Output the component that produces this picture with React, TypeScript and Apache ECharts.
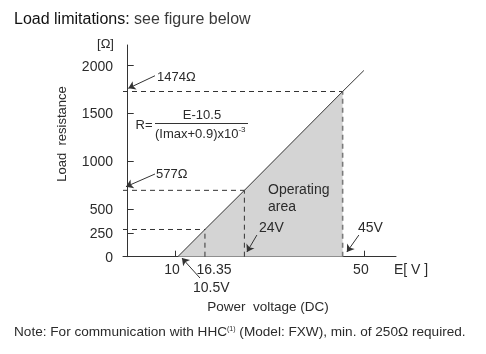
import React, { useEffect, useRef } from "react";
import * as echarts from "echarts";

// ---- data ----
const xTickValues = [10, 16.35, 50];
const yTickValues = [0, 250, 500, 1000, 1500, 2000];
const lineE = [10.6, 16.35, 24.7, 45.5, 50];
const lineR = [0, 285, 695, 1730, 1950];
const areaE = [10.6, 16.35, 24.7, 45.5];
const areaR = [0, 285, 695, 1730];
const guideE = [16.35, 24.7, 45.5];
const guideR = [285, 695, 1730];

const FONT = "'Liberation Sans', Arial, Helvetica, sans-serif";
const TXT = "#2b2b2b";

export default function App() {
  const ref = useRef<HTMLDivElement>(null);
  useEffect(() => {
    if (!ref.current) return;
    const chart = echarts.init(ref.current, null, { renderer: "svg" });
    const xMin = -1;
    const xMax = 56.8;

    const series: any[] = [];
    series.push({
      type: "line",
      data: areaE.map((e, i) => [e, areaR[i]]),
      symbol: "none",
      lineStyle: { width: 0 },
      areaStyle: { color: "#d4d4d4", opacity: 1 },
      z: 1,
      silent: true,
    });
    guideE.forEach((e, i) => {
      const last = i === guideE.length - 1;
      series.push({
        type: "line",
        data: [
          [xMin, guideR[i]],
          [e, guideR[i]],
        ],
        symbol: "none",
        lineStyle: { color: "#333", width: 1, type: [5, 4] },
        z: 2,
      });
      series.push({
        type: "line",
        data: [
          [e, 0],
          [e, guideR[i]],
        ],
        symbol: "none",
        lineStyle: {
          color: last ? "#7a7a7a" : "#333",
          width: last ? 1.6 : 1,
          type: [5, 4],
        },
        z: 2,
      });
    });
    series.push({
      type: "line",
      data: lineE.map((e, i) => [e, lineR[i]]),
      symbol: "none",
      lineStyle: { color: "#333", width: 1 },
      z: 3,
    });
    series.push({
      type: "lines",
      coordinateSystem: "cartesian2d",
      clip: false,
      symbol: ["none", "arrow"],
      symbolSize: [0, 7],
      lineStyle: { color: "#333", width: 1, opacity: 1, curveness: 0 },
      data: [
        { coords: [[5.77, 1895], [0.12, 1763]] },
        { coords: [[5.77, 866], [-0.37, 733]] },
        { coords: [[15.29, -223], [11.48, -14]] },
        { coords: [[27.35, 227], [25.24, 49]] },
        { coords: [[48.94, 227], [46.4, 49]] },
      ],
      z: 4,
    });

    const t = (x: number, y: number, text: string, align = "left", size = 13) => ({
      type: "text",
      x,
      y,
      z: 100,
      style: {
        text,
        fill: TXT,
        fontSize: size,
        fontFamily: FONT,
        align,
        verticalAlign: "middle",
      },
    });

    chart.setOption({
      animation: false,
      grid: { left: 123, top: 45, width: 273, height: 211.7 },
      xAxis: {
        type: "value",
        min: xMin,
        max: xMax,
        axisLine: { lineStyle: { color: "#333", width: 1 } },
        splitLine: { show: false },
        axisTick: {
          inside: true,
          length: 6,
          lineStyle: { color: "#333" },
          customValues: [10, 50],
        },
        axisLabel: {
          customValues: xTickValues,
          color: TXT,
          fontFamily: FONT,
          fontSize: 14,
          margin: 5,
          formatter: (v: number) => (v === 16.35 ? "{s|16.35}" : "{n|" + v + "}"),
          rich: {
            s: { fontSize: 14, fontFamily: FONT, color: TXT, padding: [0, 0, 0, 18] },
            n: { fontSize: 14, fontFamily: FONT, color: TXT, padding: [0, 6, 0, 0] },
          },
        },
      },
      yAxis: {
        type: "value",
        min: 0,
        max: 2217,
        axisLine: { show: true, lineStyle: { color: "#333", width: 1 } },
        splitLine: { show: false },
        axisTick: {
          show: true,
          inside: true,
          length: 6,
          lineStyle: { color: "#333" },
          customValues: yTickValues,
        },
        axisLabel: {
          customValues: yTickValues,
          color: TXT,
          fontFamily: FONT,
          fontSize: 14,
          margin: 10,
          formatter: (v: number) => String(v),
        },
      },
      series,
      graphic: [
        {
          type: "text",
          x: 14,
          y: 18,
          z: 100,
          style: {
            text: "{b|Load limitations:} {r|see figure below}",
            verticalAlign: "middle",
            fontSize: 16,
            fontFamily: FONT,
            rich: {
              b: { fontSize: 16, fontFamily: FONT, fill: "#111" },
              r: { fontSize: 16, fontFamily: FONT, fill: "#3a3a3a" },
            },
          },
        },
        t(105.5, 43, "[Ω]", "center", 13),
        {
          type: "text",
          x: 61,
          y: 134,
          z: 100,
          rotation: Math.PI / 2,
          style: {
            text: "Load  resistance",
            fill: TXT,
            fontSize: 13,
            fontFamily: FONT,
            align: "center",
            verticalAlign: "middle",
          },
        },
        t(157, 76, "1474Ω"),
        t(156, 173, "577Ω"),
        t(135.5, 124, "R="),
        t(202, 114, "E-10.5", "center"),
        {
          type: "line",
          z: 100,
          shape: { x1: 155, y1: 123.5, x2: 248, y2: 123.5 },
          style: { stroke: "#333", lineWidth: 1 },
        },
        {
          type: "text",
          x: 155,
          y: 133,
          z: 100,
          style: {
            text: "(Imax+0.9)x10{s|-3}",
            fill: TXT,
            fontSize: 13,
            fontFamily: FONT,
            verticalAlign: "middle",
            rich: { s: { fontSize: 8, fontFamily: FONT, fill: TXT, padding: [0, 0, 7, 0] } },
          },
        },
        t(268, 189, "Operating", "left", 14),
        t(268, 206, "area", "left", 14),
        t(259, 227, "24V", "left", 14),
        t(358, 227, "45V", "left", 14),
        t(193, 287, "10.5V", "left", 14),
        t(394, 269, "E[ V ]", "left", 14),
        t(268, 306, "Power  voltage (DC)", "center", 13.5),
        {
          type: "text",
          x: 14,
          y: 331,
          z: 100,
          style: {
            text: "Note: For communication with HHC{s|(1)} (Model: FXW), min. of 250Ω required.",
            fill: TXT,
            fontSize: 13.6,
            fontFamily: FONT,
            verticalAlign: "middle",
            rich: { s: { fontSize: 7, fontFamily: FONT, fill: TXT, padding: [0, 0, 6, 0] } },
          },
        },
      ],
    });
    return () => chart.dispose();
  }, []);
  return (
    <div
      ref={ref}
      style={{ position: "fixed", left: 0, top: 0, width: 486, height: 354 }}
    />
  );
}
